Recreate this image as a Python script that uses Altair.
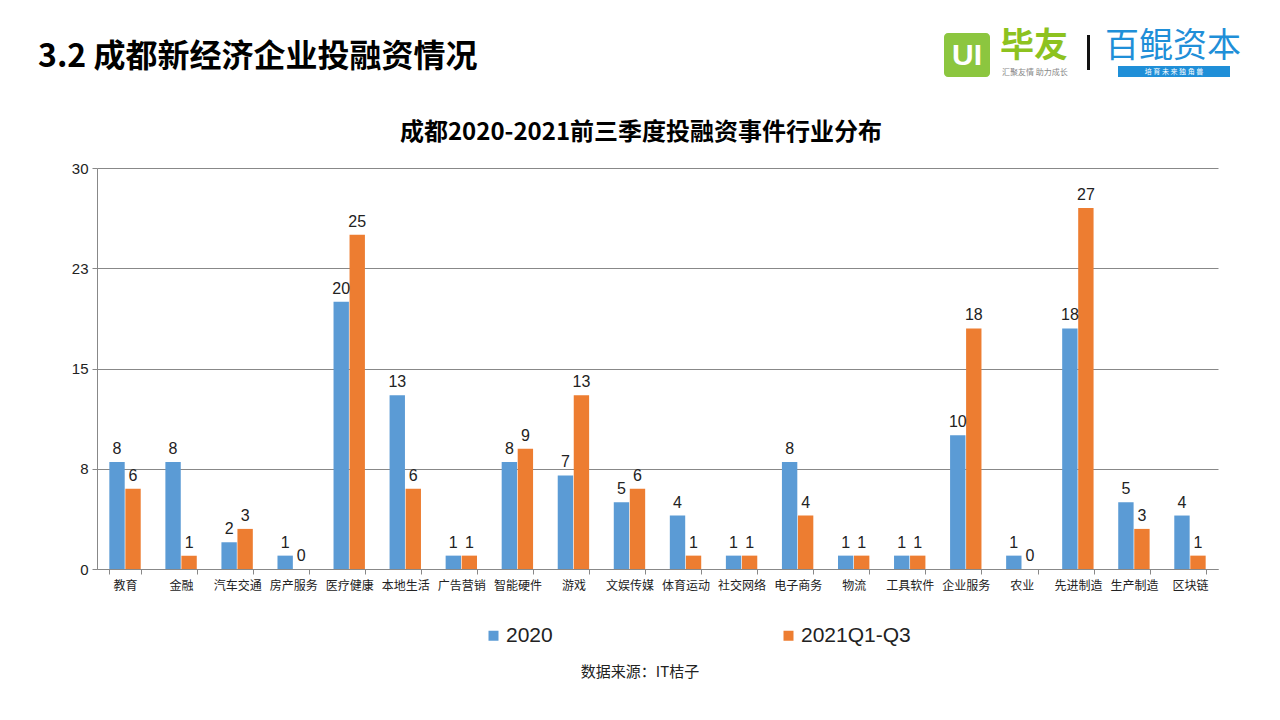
import altair as alt
import pandas as pd

categories = ["教育", "金融", "汽车交通", "房产服务", "医疗健康", "本地生活", "广告营销", "智能硬件",
              "游戏", "文娱传媒", "体育运动", "社交网络", "电子商务", "物流", "工具软件", "企业服务",
              "农业", "先进制造", "生产制造", "区块链"]
series_names = ["2020", "2021Q1-Q3"]
values_2020 = [8, 8, 2, 1, 20, 13, 1, 8, 7, 5, 4, 1, 8, 1, 1, 10, 1, 18, 5, 4]
values_2021 = [6, 1, 3, 0, 25, 6, 1, 9, 13, 6, 1, 1, 4, 1, 1, 18, 0, 27, 3, 1]
y_ticks = [0, 7.5, 15, 22.5, 30]
colors = ["#5B9BD5", "#ED7D31"]

slide_title = "3.2 成都新经济企业投融资情况"
chart_title = "成都2020-2021前三季度投融资事件行业分布"
source_text = "数据来源：IT桔子"

rows = []
for c, a, b in zip(categories, values_2020, values_2021):
    rows.append({"cat": c, "series": series_names[0], "v": a})
    rows.append({"cat": c, "series": series_names[1], "v": b})
df = pd.DataFrame(rows)

FONT = "Liberation Sans, Noto Sans CJK SC, sans-serif"
CJK = "Noto Sans CJK SC, sans-serif"

W, H = 1121, 401

base = alt.Chart(df).encode(
    x=alt.X("cat:N", sort=categories, title=None,
            scale=alt.Scale(paddingInner=0.44, paddingOuter=0.22),
            axis=alt.Axis(labelAngle=0, labelFont=CJK, labelFontSize=12, labelColor="#222222",
                          tickBand="extent", tickSize=5, tickColor="#888888",
                          domainColor="#888888", labelPadding=6, grid=False)),
    xOffset=alt.XOffset("series:N", sort=series_names, scale=alt.Scale(paddingInner=0.04)),
)

bars = base.mark_bar().encode(
    y=alt.Y("v:Q", title=None, scale=alt.Scale(domain=[0, 30], nice=False),
            axis=alt.Axis(values=y_ticks, labelExpr="round(datum.value)", labelFont=FONT,
                          labelFontSize=15, labelColor="#222222", tickSize=5,
                          tickColor="#888888", domainColor="#888888", gridColor="#888888",
                          gridWidth=1, labelPadding=4)),
    color=alt.Color("series:N", sort=series_names,
                    scale=alt.Scale(domain=series_names, range=colors),
                    legend=alt.Legend(title=None, orient="none", direction="horizontal",
                                      legendX=386, legendY=457, symbolType="square",
                                      symbolSize=100, symbolStrokeWidth=0, labelFontSize=21,
                                      labelFont=FONT, labelColor="#222222", columnPadding=225,
                                      labelOffset=2)),
)

labels = base.mark_text(baseline="bottom", dy=-5, fontSize=16, font=FONT, color="#222222").encode(
    y=alt.Y("v:Q"),
    text=alt.Text("v:Q"),
)


def txt(s, x, y, size, weight="normal", color="#000000", align="left", font=CJK, baseline="middle"):
    return alt.Chart(pd.DataFrame({"t": [s]})).mark_text(
        fontSize=size, fontWeight=weight, color=color, align=align, baseline=baseline, font=font
    ).encode(text="t:N", x=alt.value(x), y=alt.value(y))


def box(x, x2, y, y2, color, radius=0):
    return alt.Chart(pd.DataFrame({"a": [0]})).mark_rect(color=color, cornerRadius=radius).encode(
        x=alt.value(x), x2=alt.value(x2), y=alt.value(y), y2=alt.value(y2))


title1 = txt(slide_title, -59, -111, 32, "bold")
title2 = txt(chart_title, 544, -35, 24, "bold", align="center")
source = txt(source_text, 543, 504, 15, color="#222222", align="center")

logo_sq = box(847, 893, -135, -91, "#8CC63F", 4)
logo_ui = txt("UI", 870, -112, 30, "bold", "#FFFFFF", "center", FONT)
logo_by = txt("毕友", 903, -121, 34, "bold", "#8DC21F")
logo_sm = txt("汇聚友情  助力成长", 905, -95, 8, color="#888888")
logo_bar = box(990, 993, -133, -98, "#111111")
logo_bk = txt("百鲲资本", 1008, -121, 34, "normal", "#1F8FD8")
logo_ban = box(1021, 1133, -102, -91, "#1F8FD8")
logo_bt = txt("培 育 未 来 独 角 兽", 1077, -96, 7, color="#FFFFFF", align="center")

chart = alt.layer(
    bars, labels, title1, title2, source,
    logo_sq, logo_ui, logo_by, logo_sm, logo_bar, logo_bk, logo_ban, logo_bt
).properties(
    width=W, height=H,
    autosize=alt.AutoSizeParams(type="none"),
    padding={"left": 89, "top": 160, "right": 54, "bottom": 143},
    background="#FFFFFF",
).configure_view(stroke=None)

chart.save("out.html", embed_options={"renderer": "svg", "actions": False})
